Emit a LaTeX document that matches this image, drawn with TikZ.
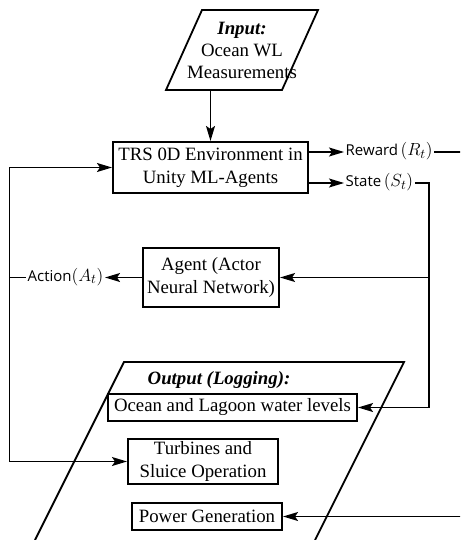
\documentclass[tikz,border=0pt]{standalone}
\usepackage{graphicx}
\usepackage{fontspec}
\setmainfont{Liberation Serif}
\newfontfamily\lblfont{Open Sans}
\usetikzlibrary{arrows.meta}
\newcommand{\mth}[1]{\raisebox{0pt}{\scalebox{1.22}{$#1$}}}
\begin{document}
\begin{tikzpicture}[x=1pt,y=-1pt,
  box/.style={draw,line width=2.1pt,align=center,inner sep=0pt,font=\fontsize{18.8}{23}\selectfont},
  conn/.style={line width=1.3pt},
  arr/.style={conn,-{Stealth[length=15pt,width=9pt,inset=3pt]}},
  lbl/.style={inner sep=1.5pt,text height=11pt,text depth=4pt,font=\lblfont\fontsize{15}{17}\selectfont},
  para/.style={line width=1.8pt},
  ttl/.style={align=center,font=\fontsize{18.8}{22}\selectfont}]
\useasboundingbox (0,0) rectangle (460,540);
\clip (0,0) rectangle (460,540);

% input parallelogram
\draw[para] (202,10) -- (318,10) -- (282,90) -- (166,90) -- cycle;
\node[ttl] (input) at (242,50) {\textbf{\textit{Input:}}\\Ocean WL\\Measurements};
\coordinate (inbot) at (210.5,90);

% output parallelogram
\draw[para] (35,540) -- (124,362) -- (404,362) -- (315,540);
\node[ttl,font=\fontsize{18.8}{22}\bfseries\itshape] (outttl) at (219,380) {Output (Logging):};

% boxes
\node[box,minimum width=195pt,minimum height=51pt] (env) at (210.5,167.5) {TRS 0D Environment in\\Unity ML-Agents};
\node[box,minimum width=136pt,minimum height=59pt] (agent) at (211,277.5) {Agent (Actor\\Neural Network)};
\node[box,minimum width=249pt,minimum height=27pt] (ocean) at (232.5,407.5) {Ocean and Lagoon water levels};
\node[box,minimum width=150pt,minimum height=45pt] (turb) at (203,461.5) {Turbines and\\Sluice Operation};
\node[box,minimum width=150pt,minimum height=27pt] (power) at (207,516.5) {Power Generation};

% labels
\node[lbl,anchor=west] (reward) at (344,152) {Reward\,\mth{(R_t)}};
\node[lbl,anchor=west] (state) at (344,183) {State\,\mth{(S_t)}};
\node[lbl] (action) at (65.5,277.5) {Action\mth{(A_t)}};

\coordinate (rend) at (462,152);
\coordinate (cr) at (429,0);
\coordinate (lx) at (9.5,0);
\coordinate (pr) at (462,516.5);

% connectors
\draw[arr] (inbot) -- (env.north);
\draw[arr] ([yshift=15.5pt]env.east) -- (reward.west);
\draw[conn] (reward.east) -- (reward.east -| rend);
\draw[arr] ([yshift=-15.5pt]env.east) -- (state.west);
\draw[arr] (state.east) -| (cr |- ocean.east) -- (ocean.east);
\draw[arr] (cr |- agent.east) -- (agent.east);
\draw[arr] (agent.west) -- (action.east);
\draw[conn] (action.west) -- (lx |- action.west);
\draw[arr] (lx |- turb.west) |- (env.west);
\draw[arr] (lx |- env.west) |- (turb.west);
\draw[arr] (pr) -- (power.east);
\end{tikzpicture}
\end{document}
